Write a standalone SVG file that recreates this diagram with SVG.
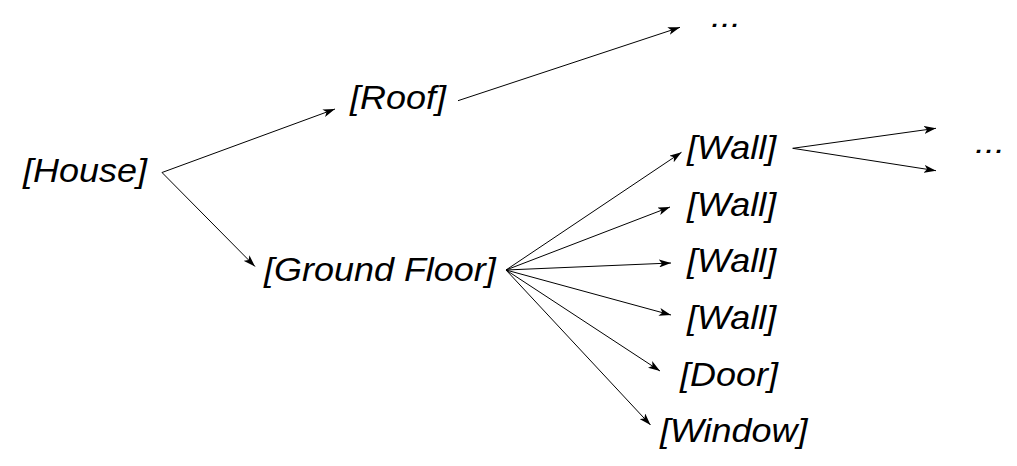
<svg xmlns="http://www.w3.org/2000/svg" width="1017" height="466" viewBox="0 0 1017 466">
<defs>
<marker id="ah" viewBox="0 0 12 8" refX="12" refY="4" markerWidth="12" markerHeight="8" markerUnits="userSpaceOnUse" orient="auto">
<path d="M0,0 L12,4 L0,8 L3,4 Z" fill="#000"/>
</marker>
<style>
.t{font-family:"Liberation Sans",Arial,sans-serif;font-style:italic;font-size:33px;fill:#000}
.d{font-size:29px}
.c line{stroke:#000;stroke-width:1;marker-end:url(#ah)}
</style>
</defs>
<rect width="1017" height="466" fill="#fff"/>
<g id="connectors" class="c">
<line x1="162" y1="172.5" x2="335" y2="109"/>
<line x1="162" y1="172.5" x2="255" y2="266.5"/>
<line x1="458" y1="100.7" x2="680" y2="27.3"/>
<line x1="506" y1="270" x2="681.5" y2="152.3"/>
<line x1="506" y1="270" x2="670" y2="207"/>
<line x1="506" y1="270" x2="671" y2="263"/>
<line x1="506" y1="270" x2="671" y2="315"/>
<line x1="506" y1="270" x2="660" y2="371"/>
<line x1="506" y1="270" x2="650.5" y2="425"/>
<line x1="792.7" y1="148.3" x2="936" y2="128.3"/>
<line x1="792.7" y1="148.3" x2="936" y2="170.7"/>
</g>
<g id="house"><text class="t" transform="translate(23,182) scale(1.09,1)">[House]</text></g>
<g id="roof"><text class="t" transform="translate(350,108.5) scale(1.09,1)">[Roof]</text></g>
<g id="ground-floor"><text class="t" transform="translate(264,281) scale(1.09,1)">[Ground Floor]</text></g>
<g id="wall1"><text class="t" transform="translate(687,159) scale(1.09,1)">[Wall]</text></g>
<g id="wall2"><text class="t" transform="translate(687,215.5) scale(1.09,1)">[Wall]</text></g>
<g id="wall3"><text class="t" transform="translate(687,272) scale(1.09,1)">[Wall]</text></g>
<g id="wall4"><text class="t" transform="translate(687,328.5) scale(1.09,1)">[Wall]</text></g>
<g id="door"><text class="t" transform="translate(680,385.5) scale(1.09,1)">[Door]</text></g>
<g id="window"><text class="t" transform="translate(660,442) scale(1.09,1)">[Window]</text></g>
<g id="more-roof"><text class="t d" transform="translate(711,27) scale(1.24,1)">...</text></g>
<g id="more-wall"><text class="t d" transform="translate(975,152.5) scale(1.24,1)">...</text></g>
</svg>
